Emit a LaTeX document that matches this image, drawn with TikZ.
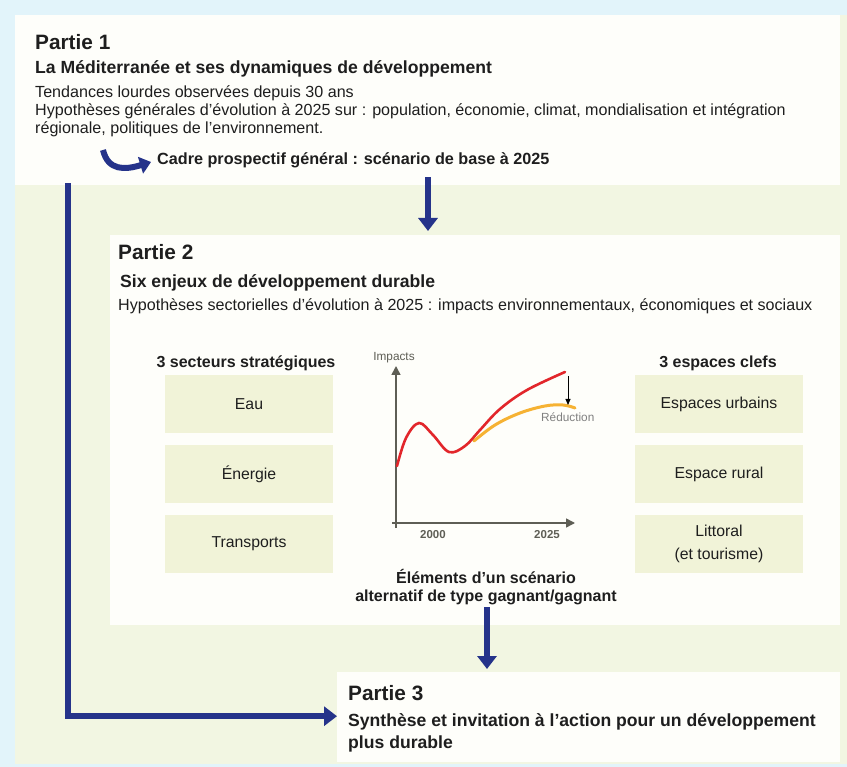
\documentclass[tikz,border=0pt]{standalone}
\usepackage{fontspec}
\setmainfont{Liberation Sans}
\usetikzlibrary{arrows.meta}
\definecolor{outerbg}{HTML}{E2F4FA}
\definecolor{panelbg}{HTML}{F2F6E2}
\definecolor{boxwhite}{HTML}{FEFEFA}
\definecolor{secfill}{HTML}{F1F3D8}
\definecolor{arrowblue}{HTML}{25338A}
\definecolor{curvered}{HTML}{E2262B}
\definecolor{curveorange}{HTML}{F6B233}
\definecolor{axisgray}{HTML}{5E5E55}
\definecolor{textdark}{HTML}{1E1E1E}
\begin{document}
\begin{tikzpicture}[x=1pt,y=-1pt,
  every node/.style={text=textdark},
  titletext/.style={anchor=base west, inner sep=0, font=\fontsize{20.8}{24}\selectfont\bfseries},
  subtext/.style={anchor=base west, inner sep=0, font=\fontsize{17.6}{20}\selectfont\bfseries},
  bodytext/.style={anchor=base west, inner sep=0, font=\fontsize{16.1}{18}\selectfont},
  headtext/.style={anchor=base, inner sep=0, font=\fontsize{16}{18}\selectfont\bfseries},
  partbox/.style={anchor=north west, fill=boxwhite, inner sep=0},
  secbox/.style={fill=secfill, minimum width=168pt, minimum height=58pt, inner sep=0, align=center, font=\fontsize{15.8}{23}\selectfont},
  bigarrow/.style={draw=arrowblue, line width=6.5pt, -{Triangle[width=19pt,length=13pt]}},
  axis/.style={draw=axisgray, line width=1.6pt, -{Triangle[width=9pt,length=9pt]}},
  smalltext/.style={inner sep=0, font=\fontsize{11.8}{13}\selectfont, text=axisgray}
]
\useasboundingbox (0,0) rectangle (847,767);
\fill[outerbg] (0,0) rectangle (847,767);
\fill[panelbg] (15,15) rectangle (847,764);

% boxes
\node[partbox, minimum width=825pt, minimum height=170pt] (p1) at (15,15) {};
\node[partbox, minimum width=730pt, minimum height=390pt] (p2) at (110,235) {};
\node[partbox, minimum width=503pt, minimum height=90pt] (p3) at (337,672) {};

% Partie 1 text
\node[titletext] (t1) at (35,50) {Partie 1};
\node[subtext] (s1) at (35,74) {La Méditerranée et ses dynamiques de développement};
\node[bodytext] (b1a) at (35,98) {Tendances lourdes observées depuis 30 ans};
\node[bodytext] (b1b) at (35,116) {Hypothèses générales d'évolution à 2025 sur : population, économie, climat, mondialisation et intégration};
\node[bodytext] (b1c) at (35,134) {régionale, politiques de l'environnement.};
\node[subtext, font=\fontsize{16.2}{18}\selectfont\bfseries] (cadre) at (157,165) {Cadre prospectif général : scénario de base à 2025};
\coordinate (sw0) at (103,150);
\coordinate (sw1) at (151,162);
\draw[draw=arrowblue, line width=6pt, -{Triangle[width=17pt,length=11pt]}] (sw0) .. controls (108,171) and (125,170) .. (sw1);

% Partie 2 text
\node[titletext] (t2) at (118,260) {Partie 2};
\node[subtext] (s2) at (120,288) {Six enjeux de développement durable};
\node[bodytext] (b2) at (118,311) {Hypothèses sectorielles d'évolution à 2025 : impacts environnementaux, économiques et sociaux};

\node[headtext] (hl) at (246,368) {3 secteurs stratégiques};
\node[headtext] (hr) at (718,368) {3 espaces clefs};

\node[secbox] (eau) at (249,404) {Eau};
\node[secbox] (ener) at (249,474) {Énergie};
\node[secbox] (trans) at (249,544) {Transports};
\node[secbox] (urb) at (719,404) {Espaces urbains};
\node[secbox] (rur) at (719,474) {Espace rural};
\node[secbox] (lit) at (719,544) {Littoral\\(et tourisme)};

% chart
\coordinate (o) at (396,528);
\coordinate (ytop) at (396,366);
\coordinate (x0) at (392,523);
\coordinate (xend) at (575,523);
\draw[axis] (o) -- (ytop);
\draw[axis] (x0) -- (xend);
\node[smalltext, anchor=base] (imp) at (394,361) {Impacts};
\node[smalltext, anchor=base, font=\fontsize{11.5}{13}\selectfont\bfseries] (y2000) at (433,538) {2000};
\node[smalltext, anchor=base, font=\fontsize{11.5}{13}\selectfont\bfseries] (y2025) at (547,538) {2025};
\draw[curveorange, line width=3pt, line cap=round] plot[smooth, tension=0.6] coordinates {(474,441) (495,425) (520,413) (545,406) (563,405) (575,408)};
\draw[curvered, line width=2.6pt, line cap=round] plot[smooth, tension=0.6] coordinates {(397,466) (406,438) (419,423) (433,435) (449,452) (465,446) (480,430) (500,409) (527,390) (565,372)};
\coordinate (r0) at (568,376);
\coordinate (r1) at (568,405);
\draw[black, line width=0.9pt, -{Triangle[width=5pt,length=6pt]}] (r0) -- (r1);
\node[smalltext, anchor=base west, text=gray] (red) at (541,422) {Réduction};

\node[headtext, align=center, anchor=north] (elem) at (486,569) {Éléments d'un scénario\\alternatif de type gagnant/gagnant};

% Partie 3 text
\node[titletext] (t3) at (348,700) {Partie 3};
\node[subtext] (s3a) at (348,726) {Synthèse et invitation à l'action pour un développement};
\node[subtext] (s3b) at (348,748) {plus durable};

% connectors
\coordinate (cx1) at (428,0);
\coordinate (cx2) at (487,0);
\coordinate (cx3) at (68,0);
\draw[bigarrow] ([yshift=8pt]p1.south -| cx1) -- ([yshift=4pt]p2.north -| cx1);
\draw[bigarrow] ([yshift=18pt]p2.south -| cx2) -- ([yshift=3pt]p3.north -| cx2);
\draw[bigarrow] ([yshift=2pt]p1.south -| cx3) |- ([yshift=1pt]p3.west);
\end{tikzpicture}
\end{document}
